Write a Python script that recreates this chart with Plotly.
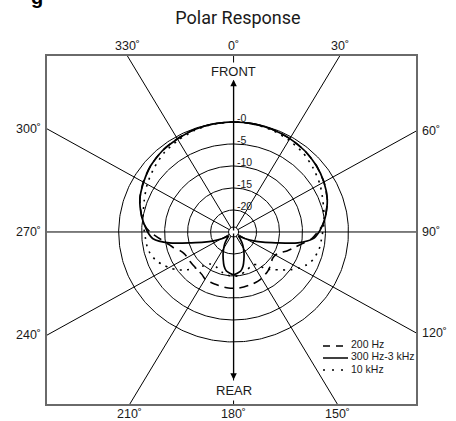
import numpy as np
import plotly.graph_objects as go

# ---------------- data ----------------
# angle in degrees, clockwise from FRONT (0°)
angles_deg = [0, 10, 20, 30, 40, 50, 60, 70, 80, 85, 90, 95, 100, 105, 110, 115, 120, 125,
              130, 135, 140, 145, 150, 155, 160, 165, 170, 175, 180,
              185, 190, 195, 200, 205, 210, 215, 220, 225, 230, 235, 240, 245, 250, 255,
              260, 265, 270, 275, 280, 290, 300, 310, 320, 330, 340, 350, 360]

# relative response in dB
resp_200hz = [0, -0.05, -0.2, -0.5, -0.9, -1.5, -2.3, -3.3, -4.7, -5.5, -6.7, -7.9, -9.8,
              -11.3, -12.5, -13.8, -14.5, -14.6, -14.3, -13.8, -13.4, -13.1, -12.8, -12.6,
              -12.5, -12.4, -12.3, -12.2, -12.2,
              -12.2, -12.3, -12.4, -12.5, -12.5, -12.6, -13.1, -13.3, -13.4, -13.4, -13.4,
              -13.4, -13.2, -12.6, -11.4, -10.3, -8.7, -6.8, -5.5, -4.7, -3.3, -2.3, -1.5,
              -0.9, -0.5, -0.2, -0.05, 0]

resp_300hz_3khz = [0, -0.05, -0.2, -0.5, -0.9, -1.5, -2.3, -3.3, -4.7, -5.5, -6.4, -7.6,
                   -10.8, -15.5, -18.2, -20.2, -21.8, -23.0, -23.6, -23.2, -22.5, -21.6,
                   -20.7, -19.6, -18.4, -17.0, -16.0, -15.6, -15.3,
                   -15.6, -16.0, -17.0, -18.4, -19.6, -20.7, -21.6, -22.5, -23.2, -23.6,
                   -23.0, -21.8, -20.2, -18.2, -15.5, -10.8, -7.4, -6.3, -5.5, -4.7, -3.3,
                   -2.4, -1.5, -0.9, -0.6, -0.2, -0.05, 0]

resp_10khz = [0, -0.1, -0.4, -0.9, -1.5, -2.4, -3.3, -4.3, -5.0, -5.3, -5.6, -5.8, -5.9,
              -6.2, -6.6, -7.4, -8.6, -10.0, -11.6, -12.9, -14.0, -15.9, -16.4, -16.3,
              -16.0, -15.6, -15.3, -15.0, -14.9,
              -15.0, -15.2, -15.5, -15.9, -16.2, -16.3, -16.1, -15.0, -13.4, -11.6, -10.0,
              -8.8, -7.7, -6.8, -6.2, -5.9, -5.8, -5.6, -5.3, -5.0, -4.3, -3.3, -2.4, -1.5,
              -0.9, -0.4, -0.1, 0]

series_names = ["200 Hz", "300 Hz-3 kHz", "10 kHz"]

ring_db = [0, -5, -10, -15, -20]
ring_labels = ["-0", "-5", "-10", "-15", "-20"]

spoke_deg = [0, 30, 60, 90, 120, 150, 180, 210, 240, 270, 300, 330]
spoke_labels = ["0˚", "30˚", "60˚", "90˚", "120˚", "150˚", "180˚", "210˚", "240˚",
                "270˚", "300˚", "330˚"]

# ---------------- layout constants ----------------
W, H = 456, 421
ML, MR, MT, MB = 47, 40, 56, 17
PW, PH = W - ML - MR, H - MT - MB
X_RANGE = [-40.6, 39.7]
Y_RANGE = [-39.1, 40.0]
DB_FLOOR = -25.0  # level at the centre of the chart

FONT = "Liberation Sans, Arial, Helvetica, sans-serif"
INK = "#1a1a1a"


def fx(px):
    return (px - ML) / PW


def fy(py):
    return (H - MB - py) / PH


def to_xy(theta_deg, db):
    th = np.radians(np.asarray(theta_deg, dtype=float))
    r = np.asarray(db, dtype=float) - DB_FLOOR
    return r * np.sin(th), r * np.cos(th)


fig = go.Figure()

# concentric rings
t = np.linspace(0, 360, 361)
for d in ring_db:
    x, y = to_xy(t, np.full_like(t, d))
    fig.add_trace(go.Scatter(x=x, y=y, mode="lines", line=dict(color="black", width=1),
                             hoverinfo="skip", showlegend=False))

# spokes to the frame
sx, sy, ends = [], [], []
for a in spoke_deg:
    s, c = np.sin(np.radians(a)), np.cos(np.radians(a))
    tx = (X_RANGE[1] if s > 0 else -X_RANGE[0]) / abs(s) if abs(s) > 1e-9 else np.inf
    ty = (Y_RANGE[1] if c > 0 else -Y_RANGE[0]) / abs(c) if abs(c) > 1e-9 else np.inf
    tt = min(tx, ty)
    ex, ey = tt * s, tt * c
    ends.append((ex, ey, "v" if ty < tx else "h", s, c))
    sx += [0, ex, None]
    sy += [0, ey, None]
fig.add_trace(go.Scatter(x=sx, y=sy, mode="lines", line=dict(color="black", width=1),
                         hoverinfo="skip", showlegend=False))

# response curves
styles = [dict(color="black", width=1.6, dash="9px,6px"),
          dict(color="black", width=1.7),
          dict(color="black", width=1.6, dash="2px,5.5px")]
for name, resp, st in zip(series_names, [resp_200hz, resp_300hz_3khz, resp_10khz], styles):
    x, y = to_xy(angles_deg, resp)
    fig.add_trace(go.Scatter(x=x, y=y, mode="lines", name=name,
                             line=dict(shape="spline", smoothing=0.7, **st),
                             showlegend=False))

annotations = []
# angle labels outside the frame
for (ex, ey, edge, s, c), lab in zip(ends, spoke_labels):
    if edge == "v" and c > 0:
        annotations.append(dict(x=ex, xref="x", y=1, yref="paper", text=lab, xanchor="center",
                                yanchor="bottom", yshift=1, showarrow=False))
    elif edge == "v":
        annotations.append(dict(x=ex, xref="x", y=0, yref="paper", text=lab, xanchor="center",
                                yanchor="top", yshift=-1, showarrow=False))
    elif s > 0:
        annotations.append(dict(x=1, xref="paper", y=ey, yref="y", text=lab, xanchor="left",
                                yanchor="middle", xshift=4, showarrow=False))
    else:
        annotations.append(dict(x=0, xref="paper", y=ey, yref="y", text=lab, xanchor="right",
                                yanchor="middle", xshift=-4, showarrow=False))
for a in annotations:
    a["font"] = dict(family=FONT, size=12.5, color=INK)

# ring labels
for d, lab in zip(ring_db, ring_labels):
    annotations.append(dict(x=0, y=d - DB_FLOOR, xref="x", yref="y", text=lab, showarrow=False,
                            xanchor="left", yanchor="middle", xshift=1, yshift=4,
                            font=dict(family=FONT, size=10.5, color=INK)))

# FRONT / REAR labels (cover the axis line) and arrows
annotations.append(dict(x=0, y=36.4, xref="x", yref="y", text="FRONT", showarrow=False,
                        bgcolor="white", borderpad=1,
                        font=dict(family=FONT, size=13, color=INK)))
annotations.append(dict(x=0, y=-36.1, xref="x", yref="y", text="REAR", showarrow=False,
                        bgcolor="white", borderpad=2,
                        font=dict(family=FONT, size=13, color=INK)))
annotations.append(dict(x=0, y=34.6, ax=0, ay=0, xref="x", yref="y", axref="x", ayref="y",
                        text="", showarrow=True, arrowhead=2, arrowsize=1.0, arrowwidth=1.3,
                        arrowcolor="black"))
annotations.append(dict(x=0, y=-33.6, ax=0, ay=0, xref="x", yref="y", axref="x", ayref="y",
                        text="", showarrow=True, arrowhead=2, arrowsize=1.0, arrowwidth=1.3,
                        arrowcolor="black"))

# manual legend
shapes = []
leg_line_y = [346, 358, 370]
leg_text_y = [343.7, 356, 369]
leg_styles = [dict(dash="7px,6px", x1=343), dict(dash="solid", x1=348),
              dict(dash="2px,7px", x1=344)]
for name, ly, ty, ls in zip(series_names, leg_line_y, leg_text_y, leg_styles):
    shapes.append(dict(type="line", xref="paper", yref="paper", x0=fx(323), x1=fx(ls["x1"]),
                       y0=fy(ly), y1=fy(ly), line=dict(color="black", width=1.5, dash=ls["dash"])))
    annotations.append(dict(x=fx(349), y=fy(ty), xref="paper", yref="paper", text=name,
                            showarrow=False, xanchor="left", yanchor="middle",
                            font=dict(family=FONT, size=10.5, color=INK)))

# centre hole
shapes.append(dict(type="circle", xref="x", yref="y", xsizemode="pixel", ysizemode="pixel",
                   xanchor=0, yanchor=0, x0=-5, x1=5, y0=-5, y1=5, fillcolor="white",
                   line=dict(color="black", width=1), layer="above"))

# cut-off caption glyph at top-left (as in the reference crop)
annotations.append(dict(x=fx(37), y=fy(10), xref="paper", yref="paper", text="<b>g</b>",
                        showarrow=False, xanchor="center", yanchor="bottom",
                        font=dict(family=FONT, size=20, color="black")))

fig.update_layout(
    width=W, height=H,
    margin=dict(l=ML, r=MR, t=MT, b=MB),
    paper_bgcolor="white", plot_bgcolor="white",
    title=dict(text="Polar Response", x=238 / W, xanchor="center", xref="container",
               y=1 - 18 / H, yanchor="middle", yref="container",
               font=dict(family="Roboto, Liberation Sans, sans-serif", size=18, color=INK)),
    xaxis=dict(range=X_RANGE, showgrid=False, zeroline=False, showticklabels=False, ticks="",
               showline=True, mirror=True, linecolor="#6a6a6a", linewidth=1.6, fixedrange=True),
    yaxis=dict(range=Y_RANGE, showgrid=False, zeroline=False, showticklabels=False, ticks="",
               showline=True, mirror=True, linecolor="#6a6a6a", linewidth=1.6, fixedrange=True),
    annotations=annotations,
    shapes=shapes,
    showlegend=False,
)

fig.write_html("out.html", config={"displayModeBar": False},
               post_script="document.body.style.margin='0';")
